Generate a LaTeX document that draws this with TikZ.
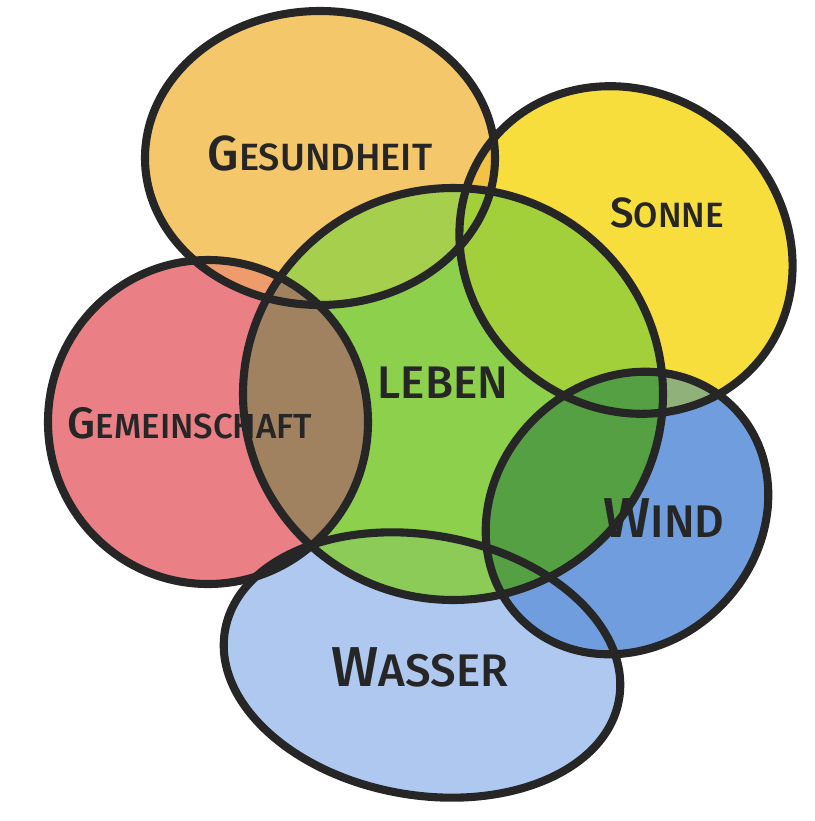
\documentclass[tikz,border=0pt]{standalone}
\usepackage{fontspec}
\setmainfont{Fira Sans Medium}
\usetikzlibrary{positioning}

\definecolor{gesundcol}{HTML}{F4C76A}
\definecolor{sonnecol}{HTML}{F8DE3C}
\definecolor{lebencol}{HTML}{8DD04C}
\definecolor{gemeincol}{HTML}{EA7F85}
\definecolor{windcol}{HTML}{6F9DDD}
\definecolor{wassercol}{HTML}{AEC8EF}
% mixed colours where two blobs overlap
\definecolor{gesundsonne}{HTML}{F2C244}
\definecolor{gesundgemein}{HTML}{EF9C6C}
\definecolor{lebengesund}{HTML}{A6CF4E}
\definecolor{lebensonne}{HTML}{A2D03A}
\definecolor{lebengemein}{HTML}{A08260}
\definecolor{lebenwasser}{HTML}{8CCB58}
\definecolor{lebenwind}{HTML}{55A042}
\definecolor{sonnewind}{HTML}{90B27A}

% the six blobs
\newcommand{\gesundshape}{(320,158) ellipse [x radius=175, y radius=147]}
\newcommand{\sonneshape}{[rotate around={-40:(626,250)}] (626,250) ellipse [x radius=173, y radius=157]}
\newcommand{\lebenshape}{(453,394) ellipse [x radius=210, y radius=206]}
\newcommand{\gemeinshape}{(208,422) ellipse [x radius=160, y radius=162]}
\newcommand{\windshape}{[rotate around={45:(627,513)}] (627,513) ellipse [x radius=150, y radius=132]}
\newcommand{\wassershape}{[rotate around={-10:(422,665)}] (422,665) ellipse [x radius=200, y radius=130]}

% first letter a bit bigger, like the hand lettering
\newcommand{\handword}[4]{{\fontsize{#1}{#1}\selectfont #3}{\fontsize{#2}{#2}\selectfont #4}}

\begin{document}
\begin{tikzpicture}[
  x=0.01cm, y=-0.01cm,
  blob/.style={line width=2.3pt, black!85},
  lbl/.style={text=black!85, inner sep=0pt}
]
\useasboundingbox (0,0) rectangle (815,821);
\fill[white] (0,0) rectangle (815,821);

% plain fills
\fill[wassercol] \wassershape;
\fill[windcol] \windshape;
\fill[gemeincol] \gemeinshape;
\fill[gesundcol] \gesundshape;
\fill[sonnecol] \sonneshape;
\fill[lebencol] \lebenshape;

% overlaps
\begin{scope}
  \clip \gesundshape;
  \fill[gesundsonne] \sonneshape;
  \fill[gesundgemein] \gemeinshape;
\end{scope}
\begin{scope}
  \clip \windshape;
  \fill[sonnewind] \sonneshape;
\end{scope}
\begin{scope}
  \clip \lebenshape;
  \fill[lebengesund] \gesundshape;
  \fill[lebensonne] \sonneshape;
  \fill[lebengemein] \gemeinshape;
  \fill[lebenwasser] \wassershape;
  \fill[lebenwind] \windshape;
\end{scope}

% outlines
\draw[blob] \gesundshape;
\draw[blob] \sonneshape;
\draw[blob] \lebenshape;
\draw[blob] \gemeinshape;
\draw[blob] \windshape;
\draw[blob] \wassershape;

% labels
\node[lbl] (gesund) at (320,153) {\handword{14}{10.8}{G}{ESUNDHEIT}};
\node[lbl] (sonne) at (667,213) {\handword{12}{10}{S}{ONNE}};
\node[lbl] (leben) at (443,383) {\handword{13}{13}{L}{EBEN}};
\node[lbl] (gemein) at (190,423) {\handword{12.5}{9.9}{G}{EMEINSCHAFT}};
\node[lbl] (wind) at (664,518) {\handword{16}{13}{W}{IND}};
\node[lbl] (wasser) at (420,667) {\handword{16}{13}{W}{ASSER}};

\end{tikzpicture}
\end{document}
